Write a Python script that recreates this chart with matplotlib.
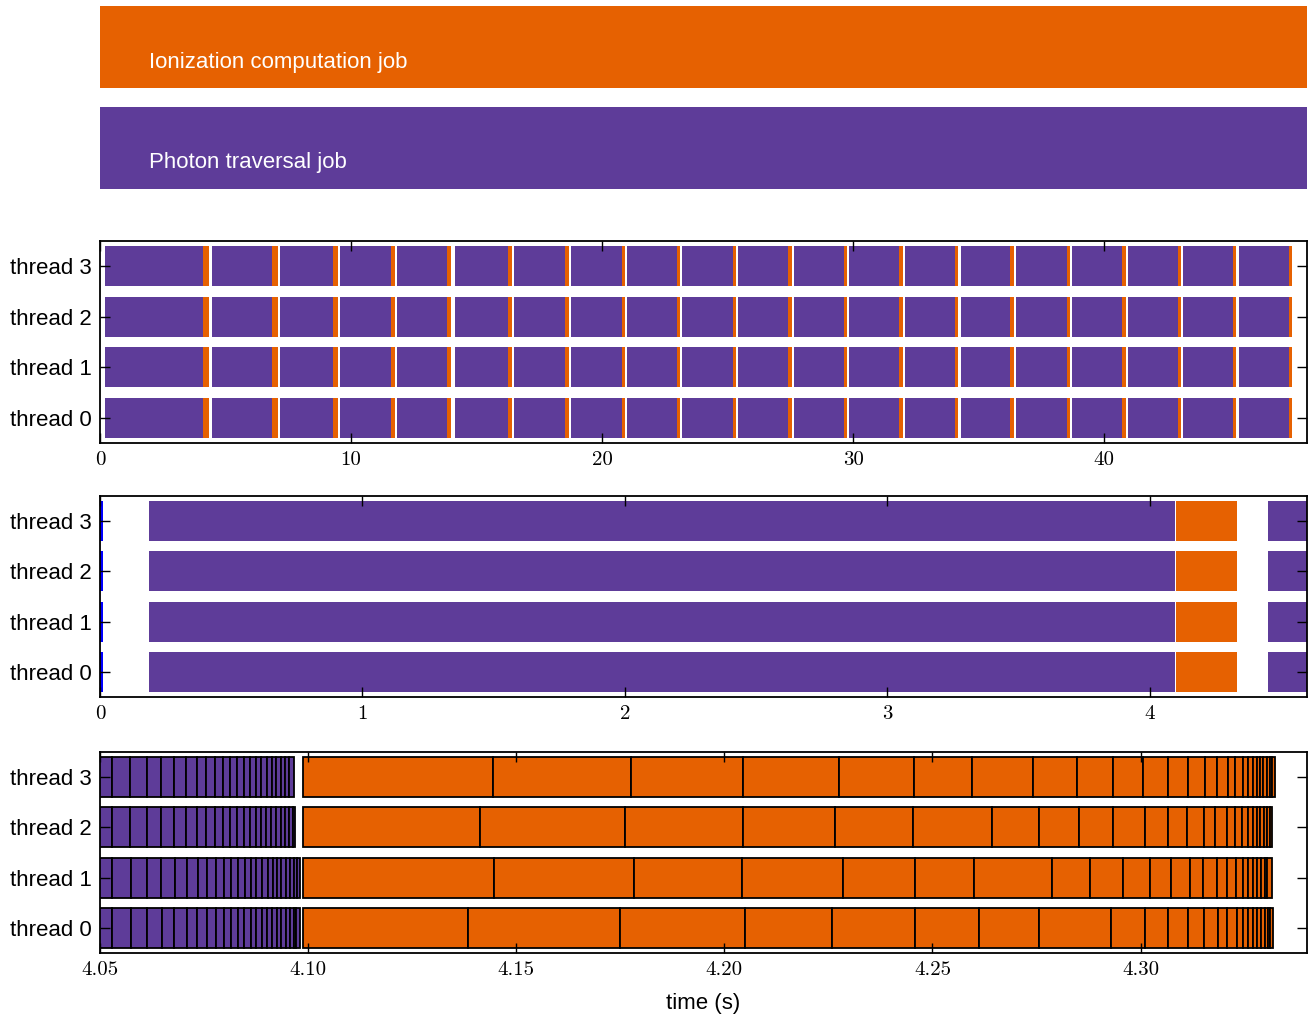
import numpy as np
import matplotlib.pyplot as plt

PHOTON = '#5e3c99'
ION = '#e66101'

threads = [0, 1, 2, 3]
thread_labels = ['thread 0', 'thread 1', 'thread 2', 'thread 3']

# start-up job and start of the first photon phase (s)
init_end = 0.011
first_start = 0.187

# first iteration, job boundaries per thread (s)
# photon jobs: each value is the end of a job, the last one ends the phase
photon_edges = {
    0: [4.0530, 4.0574, 4.0612, 4.0648, 4.0678, 4.0708, 4.0732, 4.0758, 4.0779,
        4.0798, 4.0815, 4.0831, 4.0847, 4.0862, 4.0876, 4.0889, 4.0902, 4.0914,
        4.0925, 4.0935, 4.0947, 4.0956, 4.0965, 4.0972, 4.0980],
    1: [4.0530, 4.0574, 4.0612, 4.0646, 4.0680, 4.0708, 4.0735, 4.0758, 4.0779,
        4.0799, 4.0815, 4.0832, 4.0848, 4.0863, 4.0876, 4.0890, 4.0903, 4.0915,
        4.0926, 4.0936, 4.0947, 4.0956, 4.0965, 4.0973, 4.0980],
    2: [4.0528, 4.0572, 4.0612, 4.0646, 4.0678, 4.0706, 4.0732, 4.0755, 4.0777,
        4.0796, 4.0813, 4.0830, 4.0845, 4.0860, 4.0874, 4.0887, 4.0900, 4.0912,
        4.0923, 4.0934, 4.0944, 4.0954, 4.0963, 4.0968],
    3: [4.0529, 4.0572, 4.0613, 4.0646, 4.0678, 4.0707, 4.0733, 4.0755, 4.0776,
        4.0795, 4.0812, 4.0829, 4.0846, 4.0860, 4.0875, 4.0887, 4.0901, 4.0913,
        4.0923, 4.0935, 4.0944, 4.0954, 4.0966],
}
# ionization jobs: first value is the phase start, then the end of each job
ion_edges = {
    0: [4.0988, 4.1384, 4.1750, 4.2049, 4.2258, 4.2458, 4.2611, 4.2756, 4.2930,
        4.3010, 4.3065, 4.3115, 4.3153, 4.3185, 4.3208, 4.3231, 4.3245, 4.3259,
        4.3270, 4.3279, 4.3289, 4.3298, 4.3306, 4.3312, 4.3318],
    1: [4.0988, 4.1446, 4.1784, 4.2043, 4.2286, 4.2458, 4.2601, 4.2788, 4.2879,
        4.2958, 4.3022, 4.3074, 4.3118, 4.3151, 4.3184, 4.3208, 4.3229, 4.3245,
        4.3259, 4.3270, 4.3280, 4.3289, 4.3298, 4.3305, 4.3315],
    2: [4.0988, 4.1414, 4.1762, 4.2046, 4.2266, 4.2454, 4.2643, 4.2757, 4.2853,
        4.2935, 4.3010, 4.3067, 4.3112, 4.3153, 4.3180, 4.3207, 4.3228, 4.3244,
        4.3257, 4.3269, 4.3279, 4.3288, 4.3297, 4.3305, 4.3310, 4.3315],
    3: [4.0988, 4.1445, 4.1775, 4.2045, 4.2276, 4.2456, 4.2595, 4.2741, 4.2848,
        4.2935, 4.3007, 4.3067, 4.3115, 4.3154, 4.3183, 4.3209, 4.3227, 4.3245,
        4.3258, 4.3269, 4.3279, 4.3286, 4.3294, 4.3303, 4.3310, 4.3317, 4.3323],
}

# later iterations (s)
photon_start = [4.45, 7.17, 9.56, 11.83, 14.14, 16.49, 18.76, 21.00, 23.19, 25.42,
                27.65, 29.84, 32.07, 34.30, 36.49, 38.73, 40.96, 43.15, 45.38]
photon_end = [6.85, 9.28, 11.59, 13.84, 16.25, 18.53, 20.80, 22.99, 25.22, 27.41,
              29.64, 31.83, 34.06, 36.25, 38.53, 40.72, 42.95, 45.14, 47.37]
ion_end = [7.09, 9.47, 11.75, 13.98, 16.41, 18.68, 20.92, 23.10, 25.34, 27.57,
           29.76, 31.99, 34.18, 36.41, 38.65, 40.88, 43.07, 45.26, 47.49]

H = 0.8


def draw_phases(ax):
    # whole phases, no job borders
    for t in threads:
        ax.barh(t, init_end, left=0, height=H, color='b', lw=0)
        p_end = photon_edges[t][-1]
        ax.barh(t, p_end - first_start, left=first_start, height=H, color=PHOTON, lw=0)
        ax.barh(t, ion_edges[t][-1] - ion_edges[t][0], left=ion_edges[t][0],
                height=H, color=ION, lw=0)
        for s, e, o in zip(photon_start, photon_end, ion_end):
            ax.barh(t, e - s, left=s, height=H, color=PHOTON, lw=0)
            ax.barh(t, o - e, left=e, height=H, color=ION, lw=0)


def draw_jobs(ax):
    # single jobs of the first iteration
    for t in threads:
        ends = np.array(photon_edges[t])
        starts = np.concatenate([[first_start], ends[:-1]])
        ax.barh([t] * len(ends), ends - starts, left=starts, height=H,
                color=PHOTON, edgecolor='k', lw=1.3)
        ion = np.array(ion_edges[t])
        ax.barh([t] * (len(ion) - 1), ion[1:] - ion[:-1], left=ion[:-1], height=H,
                color=ION, edgecolor='k', lw=1.3)


def style(ax, xlim, xticks, fmt):
    ax.set_xlim(*xlim)
    ax.set_ylim(-0.5, 3.5)
    ax.set_yticks(threads)
    ax.set_yticklabels(thread_labels, fontsize=16, family='Liberation Sans')
    ax.set_xticks(xticks)
    ax.set_xticklabels([fmt.format(v) for v in xticks], fontsize=15, family='cmr10')
    ax.tick_params(direction='in', top=True, right=True, length=7, width=1)
    ax.tick_params(axis='x', pad=6)
    ax.tick_params(axis='y', pad=6)
    for sp in ax.spines.values():
        sp.set_linewidth(1.3)


fig = plt.figure(figsize=(13.14, 10.19), dpi=100)

# job type key
ax0 = fig.add_axes([0.0761, 1 - 189 / 1019, 0.9186, 183 / 1019])
ax0.barh([1, 0], [1, 1], height=0.815, color=[ION, PHOTON], lw=0)
ax0.set_xlim(0, 1)
ax0.set_ylim(-0.41, 1.41)
ax0.axis('off')
ax0.text(0.0406, 1 - 0.15, 'Ionization computation job', color='white', fontsize=16,
         family='Liberation Sans', va='center')
ax0.text(0.0406, -0.15, 'Photon traversal job', color='white', fontsize=16,
         family='Liberation Sans', va='center')

ax1 = fig.add_axes([0.0761, 1 - 443 / 1019, 0.9186, 202 / 1019])
draw_phases(ax1)
style(ax1, (0, 48.08), [0, 10, 20, 30, 40], '{:d}')

ax2 = fig.add_axes([0.0761, 1 - 697 / 1019, 0.9186, 201 / 1019])
draw_phases(ax2)
style(ax2, (0, 4.6), [0, 1, 2, 3, 4], '{:d}')

ax3 = fig.add_axes([0.0761, 1 - 953 / 1019, 0.9186, 201 / 1019])
draw_jobs(ax3)
style(ax3, (4.05, 4.34), [4.05, 4.10, 4.15, 4.20, 4.25, 4.30], '{:.2f}')
ax3.set_xlabel('time (s)', fontsize=16, family='Liberation Sans', labelpad=10)

fig.savefig('out.png', dpi=100)
